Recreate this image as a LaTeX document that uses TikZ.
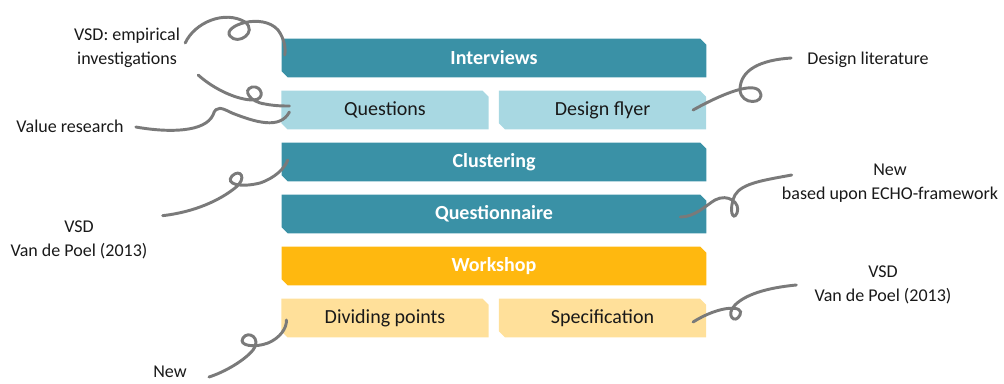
\documentclass[tikz,border=0pt]{standalone}
\usepackage{fontspec}
\setmainfont{Carlito}
\usetikzlibrary{calc,backgrounds}
\definecolor{stepdark}{HTML}{3A91A6}
\definecolor{steplight}{HTML}{A8D8E2}
\definecolor{stepgold}{HTML}{FFB80F}
\definecolor{stepsand}{HTML}{FFE09A}
\definecolor{squig}{HTML}{7A7A7A}

\begin{document}
\begin{tikzpicture}[x=0.75pt,y=-0.75pt,
  wide/.style={minimum width=318pt,minimum height=28.5pt,inner sep=0pt,font=\fontsize{15}{18}\selectfont\bfseries,text=white},
  half/.style={minimum width=155pt,minimum height=28.5pt,inner sep=0pt,font=\fontsize{15}{18}\selectfont,text=black!90},
  note/.style={align=center,inner sep=0pt,font=\fontsize{13.5}{18}\selectfont,text=black!90},
  curl/.style={draw=squig,line width=2.2pt,line cap=round}]
  \useasboundingbox (0,0) rectangle (1004,383);
  % method steps
  \node[wide] (interviews) at (494,58) {Interviews};
  \node[half] (questions) at (385,110) {Questions};
  \node[half] (flyer) at (602.5,110) {Design flyer};
  \node[wide] (clustering) at (494,162) {Clustering};
  \node[wide] (questionnaire) at (494,214) {Questionnaire};
  \node[wide] (workshop) at (494,266) {Workshop};
  \node[half] (dividing) at (385,318) {Dividing points};
  \node[half] (spec) at (602.5,318) {Specification};
  \begin{scope}[on background layer]
    \foreach \n/\c in {interviews/stepdark,questions/steplight,flyer/steplight,clustering/stepdark,
                       questionnaire/stepdark,workshop/stepgold,dividing/stepsand,spec/stepsand}
      \fill[\c] (\n.north west) -- ($(\n.north east)+(-6,0)$) -- ($(\n.north east)+(0,6)$)
        -- (\n.south east) -- ($(\n.south west)+(6,0)$) -- ($(\n.south west)+(0,-6)$) -- cycle;
  \end{scope}
  % sources
  \node[note] (empirical) at (127,48) {VSD: empirical\\investigations};
  \node[note] (valueres) at (70,126) {Value research};
  \node[note] (vsdleft) at (79,240) {VSD\\Van de Poel (2013)};
  \node[note] (newleft) at (170,372) {New};
  \node[note] (designlit) at (868,60) {Design literature};
  \node[note] (echo) at (890,183) {New\\based upon ECHO-framework};
  \node[note] (vsdright) at (883,285) {VSD\\Van de Poel (2013)};
  % curly connectors
  \coordinate (c1s) at ($(empirical.east)+(5,-5)$);
  \coordinate (c1e) at ($(interviews.west)+(3,-3)$);
  \coordinate (c2s) at ($(empirical.south east)+(18,7)$);
  \coordinate (c2e) at ($(questions.west)+(8,-4)$);
  \coordinate (c3s) at ($(valueres.east)+(12,1)$);
  \coordinate (c3e) at ($(questions.west)+(8,2)$);
  \coordinate (c4s) at ($(vsdleft.north east)+(15,-5)$);
  \coordinate (c4e) at ($(clustering.west)+(6,-2)$);
  \coordinate (c5s) at ($(designlit.west)+(-16,-2)$);
  \coordinate (c5e) at ($(flyer.east)+(-13,0)$);
  \coordinate (c6s) at ($(echo.west)+(10,-8)$);
  \coordinate (c6e) at ($(questionnaire.east)+(-26,3)$);
  \coordinate (c7s) at ($(vsdright.west)+(-18,0)$);
  \coordinate (c7e) at ($(spec.east)+(-13,4)$);
  \coordinate (c8s) at ($(newleft.east)+(22,5)$);
  \coordinate (c8e) at ($(dividing.west)+(5,2)$);
  \draw[curl] (c1s) .. controls (195,22) and (225,10) .. (245,22)
    .. controls (258,32) and (238,46) .. (230,36)
    .. controls (222,26) and (262,12) .. (278,30)
    .. controls (284,38) and (286,48) .. (c1e);
  \draw[curl] (c2s) .. controls (215,90) and (238,100) .. (253,100)
    .. controls (266,100) and (262,85) .. (252,87)
    .. controls (242,90) and (250,102) .. (265,104)
    .. controls (275,106) and (284,106) .. (c2e);
  \draw[curl] (c3s) .. controls (170,133) and (205,132) .. (213,115)
    .. controls (216,105) and (222,108) .. (232,113)
    .. controls (255,122) and (280,130) .. (c3e);
  \draw[curl] (c4s) .. controls (195,212) and (220,200) .. (235,188)
    .. controls (248,178) and (240,168) .. (232,176)
    .. controls (225,184) and (240,188) .. (260,183)
    .. controls (275,178) and (285,168) .. (c4e);
  \draw[curl] (c5s) .. controls (760,60) and (740,70) .. (740,90)
    .. controls (741,106) and (766,104) .. (760,92)
    .. controls (754,80) and (718,96) .. (c5e);
  \draw[curl] (c6s) .. controls (765,180) and (742,183) .. (735,195)
    .. controls (728,210) and (733,222) .. (737,213)
    .. controls (741,203) and (728,193) .. (715,200)
    .. controls (705,206) and (695,217) .. (c6e);
  \draw[curl] (c7s) .. controls (765,288) and (745,295) .. (735,305)
    .. controls (725,315) and (735,325) .. (740,315)
    .. controls (745,305) and (720,305) .. (c7e);
  \draw[curl] (c8s) .. controls (225,372) and (245,360) .. (253,350)
    .. controls (262,338) and (248,330) .. (243,338)
    .. controls (238,346) and (255,348) .. (268,343)
    .. controls (280,338) and (287,328) .. (c8e);
\end{tikzpicture}
\end{document}
